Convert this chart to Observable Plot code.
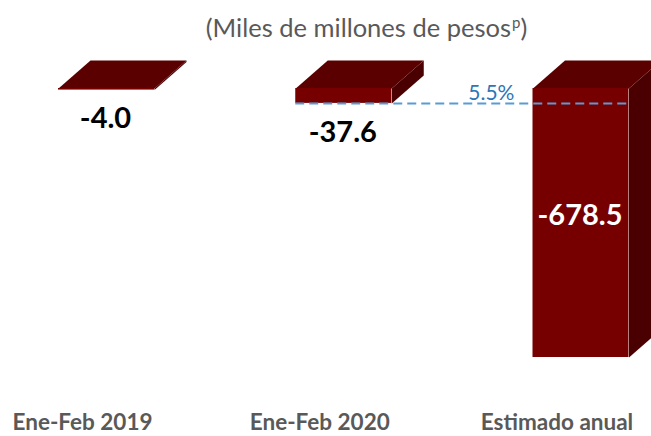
<!DOCTYPE html>
<html><head><meta charset="utf-8">
<script src="https://cdn.jsdelivr.net/npm/d3@7"></script>
<script src="https://cdn.jsdelivr.net/npm/@observablehq/plot@0.6"></script>
<style>
html,body{margin:0;padding:0;background:#fff;overflow:hidden;width:651px;height:436px}
#title{box-sizing:border-box;width:651px;height:48px;padding-top:14px;padding-left:82px;text-align:center;font-family:Lato,sans-serif;font-size:25.5px;line-height:26px;color:#595959;white-space:nowrap}
#title sup{font-size:15px;line-height:0;vertical-align:baseline;position:relative;top:-9px;margin-left:1px}
#chart svg{display:block}
</style></head><body>
<div id="title">(Miles de millones de pesos<sup>p</sup>)</div>
<div id="chart"></div>
<script>
const categories = ["Ene-Feb 2019", "Ene-Feb 2020", "Estimado anual"];
const values = [-4.0, -37.6, -678.5];

const H = 388, W = 651;
const xRange = [106, 580.5];
const yRange = [309, 40];
const pxPerX = (xRange[1] - xRange[0]) / (categories.length - 1);
const pxPerY = (yRange[0] - yRange[1]) / (0 - d3.min(values));
const hw = 48 / pxPerX;       // half front width
const dX = 32 / pxPerX;       // depth in x
const dY = 28 / pxPerY;       // depth in y

const bars = values.map((v, i) => ({i, v, cat: categories[i]}));
const tops = bars.flatMap(({i}) => [[i - hw, 0], [i - hw + dX, dY], [i + hw + dX, dY], [i + hw, 0]].map(([x, y]) => ({i, x, y})));
const sides = bars.flatMap(({i, v}) => [[i + hw, 0], [i + hw + dX, dY], [i + hw + dX, v + dY], [i + hw, v]].map(([x, y]) => ({i, x, y})));

const share = (values[1] / values[2] * 100).toFixed(1) + "%";

const chart = Plot.plot({
  width: W, height: H,
  marginTop: 0, marginBottom: 0, marginLeft: 0, marginRight: 0,
  style: {fontFamily: "Lato, sans-serif", background: "white"},
  x: {type: "linear", domain: [0, categories.length - 1], range: xRange, axis: null},
  y: {type: "linear", domain: [d3.min(values), 0], range: yRange, axis: null},
  marks: [
    Plot.line(sides, {x: "x", y: "y", z: "i", fill: "#4a0000", stroke: "none"}),
    Plot.line(tops, {x: "x", y: "y", z: "i", fill: "#5a0000", stroke: "none"}),
    Plot.rect(bars, {x1: d => d.i - hw, x2: d => d.i + hw, y1: 0, y2: "v", fill: "#760000"}),
    Plot.ruleY([values[1]], {x1: 1 - hw, x2: 2 + hw, stroke: "#5b9bd5", strokeWidth: 2, strokeDasharray: "9,5"}),
    Plot.text([share], {x: 1.5, y: values[1], text: d => d, dx: 29, dy: -3, lineAnchor: "bottom", fontSize: 21, fill: "#2e75b6"}),
    Plot.text(bars.filter(d => d.v > -100), {x: "i", y: "v", text: d => d.v.toFixed(1), dx: -1, dy: 29, fontSize: 29, fontWeight: 700, fill: "#000"}),
    Plot.text(bars.filter(d => d.v <= -100), {x: "i", y: d => d.v / 2, text: d => d.v.toFixed(1), dx: -1, dy: -7, fontSize: 29, fontWeight: 700, fill: "#fff"}),
    Plot.text(bars, {x: "i", text: "cat", frameAnchor: "bottom", lineAnchor: "bottom", dx: -24, dy: -7, fontSize: 22.5, fontWeight: 700, fill: "#595959"})
  ]
});
document.getElementById("chart").appendChild(chart);
</script>
</body></html>
